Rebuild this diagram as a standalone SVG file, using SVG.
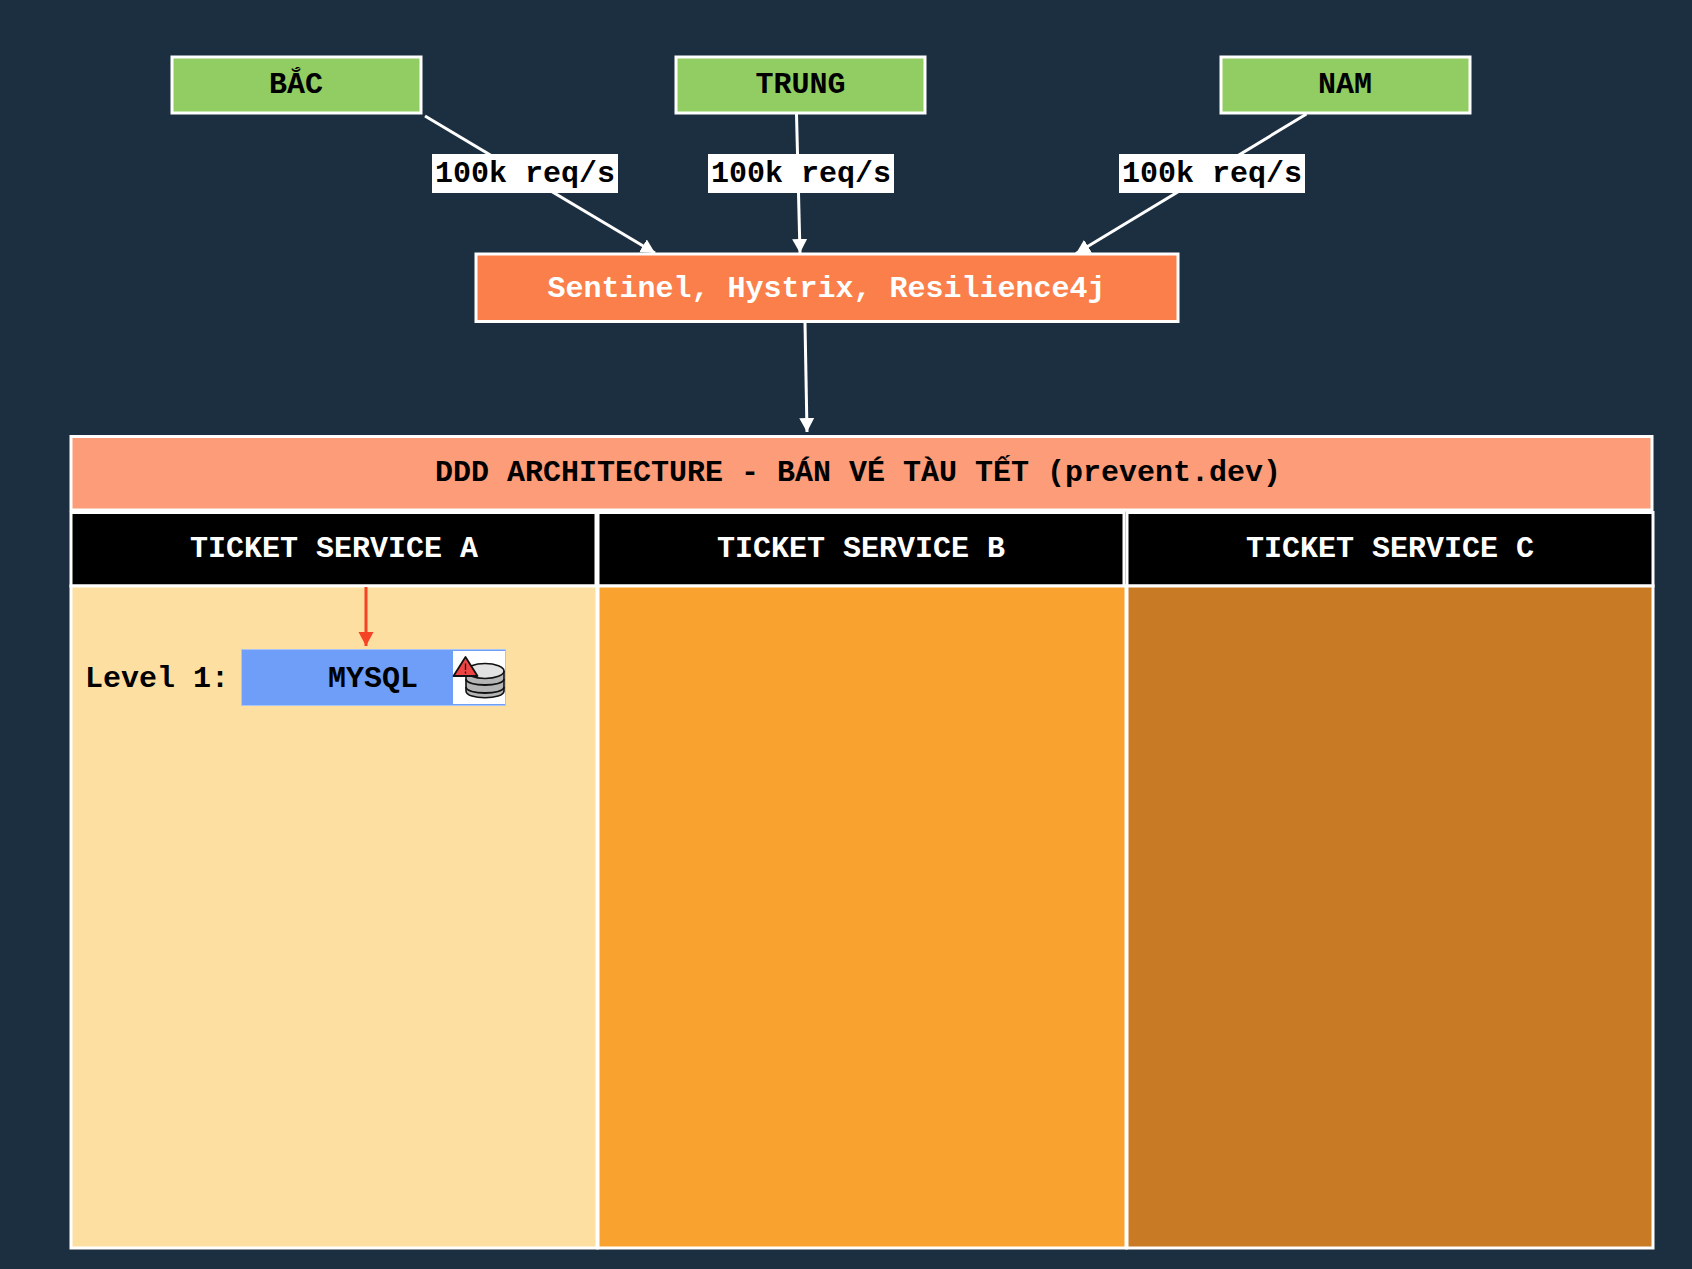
<svg xmlns="http://www.w3.org/2000/svg" width="1692" height="1269" viewBox="0 0 1692 1269">
<style>
text{font-family:"Liberation Mono","DejaVu Sans Mono",monospace;font-weight:700;font-size:30px;text-anchor:middle}
.b{stroke:#fff;stroke-width:3}
.k{fill:#000}.w{fill:#fff}
.c{stroke:#fff;stroke-width:3;fill:none;marker-end:url(#ah)}
.i{stroke:#111;stroke-width:1.6}
</style>
<defs>
<marker id="ah" markerUnits="userSpaceOnUse" markerWidth="16" markerHeight="16" refX="14" refY="7.5" orient="auto"><path d="M0 0L14 7.5L0 15z" fill="#fff"/></marker>
<marker id="ar" markerUnits="userSpaceOnUse" markerWidth="16" markerHeight="16" refX="14" refY="7.5" orient="auto"><path d="M0 0L14 7.5L0 15z" fill="#F44325"/></marker>
</defs>
<rect width="1692" height="1269" fill="#1C2F41"/>
<g id="node-title"><rect class="b" x="71" y="436.500" width="1581" height="73.500" fill="#FC9C78"/><text class="k" x="858" y="481">DDD ARCHITECTURE - BÁN VÉ TÀU TẾT (prevent.dev)</text></g>
<g id="col-a"><rect class="b" x="71" y="512.500" width="525" height="73.500" fill="#000"/><text class="w" x="334" y="557">TICKET SERVICE A</text><rect class="b" x="71" y="586" width="526" height="662" fill="#FDDFA2"/></g>
<g id="col-b"><rect class="b" x="598" y="512.500" width="526" height="73.500" fill="#000"/><text class="w" x="861" y="557">TICKET SERVICE B</text><rect class="b" x="598" y="586" width="528" height="662" fill="#F9A22F"/></g>
<g id="col-c"><rect class="b" x="1127" y="512.500" width="526" height="73.500" fill="#000"/><text class="w" x="1390" y="557">TICKET SERVICE C</text><rect class="b" x="1127" y="586" width="526" height="662" fill="#C97A25"/></g>
<g id="connectors">
<path class="c" d="M425 116L655 253"/>
<path class="c" d="M796.500 114L800 253"/>
<path class="c" d="M1306.500 114L1076 253.500"/>
<path class="c" d="M805 323L807 432"/>
<path d="M366 587V646" stroke="#F44325" stroke-width="3" fill="none" marker-end="url(#ar)"/>
</g>
<g id="node-bac"><rect class="b" x="172" y="57" width="249" height="56" fill="#92CD63"/><text class="k" x="296" y="93">BẮC</text></g>
<g id="node-trung"><rect class="b" x="676" y="57" width="249" height="56" fill="#92CD63"/><text class="k" x="800.500" y="93">TRUNG</text></g>
<g id="node-nam"><rect class="b" x="1221" y="57" width="249" height="56" fill="#92CD63"/><text class="k" x="1345" y="93">NAM</text></g>
<g id="label-1"><rect class="w" x="432" y="154" width="186" height="39"/><text class="k" x="525" y="182">100k req/s</text></g>
<g id="label-2"><rect class="w" x="708" y="154" width="186" height="39"/><text class="k" x="801" y="182">100k req/s</text></g>
<g id="label-3"><rect class="w" x="1119" y="154" width="186" height="39"/><text class="k" x="1212" y="182">100k req/s</text></g>
<g id="node-gateway"><rect class="b" x="476" y="254" width="702" height="67.500" fill="#FA7F4B"/><text class="w" x="826.500" y="297">Sentinel, Hystrix, Resilience4j</text></g>
<g id="node-level1">
<text class="k" x="157" y="686.500">Level 1:</text>
<rect x="241.500" y="649.500" width="264" height="56" fill="#6E9EF7" stroke="#A9C5F5"/>
<text class="k" x="373" y="686.500">MYSQL</text>
<g id="icon">
<rect x="453" y="651" width="52" height="53" fill="#fff"/>
<path class="i" d="M466 671V691C466 700 504 700 504 691V671" fill="#b5b5b5" stroke-width="2"/>
<path d="M466 679C466 687 504 687 504 679M466 687C466 695 504 695 504 687" fill="none" stroke="#111" stroke-width="1.800"/>
<ellipse class="i" cx="485" cy="671" rx="19" ry="7.500" fill="#e2e2e2"/>
<path d="M465.500 657L477.500 676H453.500z" fill="#EF4444" stroke="#111" stroke-width="1.800" stroke-linejoin="round"/>
<path d="M465.500 663.500V670M465.500 671.500V673.500" stroke="#111" stroke-width="1.300" fill="none"/>
</g>
</g>
</svg>
